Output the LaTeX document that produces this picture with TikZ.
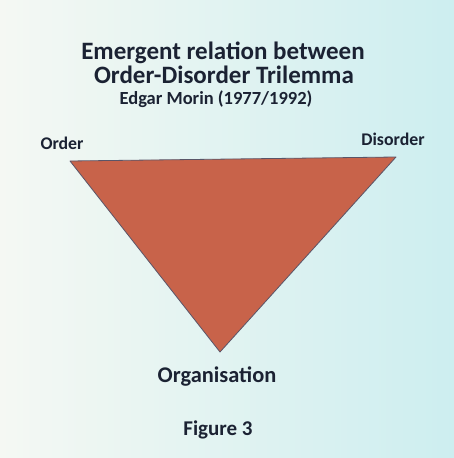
\documentclass[tikz,border=0pt]{standalone}
\usepackage{fontspec}
\setmainfont{Carlito}
\usetikzlibrary{positioning}
\definecolor{inkblue}{HTML}{1B2233}
\definecolor{brick}{HTML}{C8634A}
\definecolor{edgegray}{HTML}{5A5568}
\definecolor{pagewhite}{HTML}{F5F8F3}
\definecolor{pagecyan}{HTML}{CDEEF0}
\tikzset{
  every node/.style={text=inkblue, inner sep=0pt},
  title/.style={font=\fontsize{25}{28}\selectfont\bfseries, anchor=base},
  subtitle/.style={font=\fontsize{18.5}{22}\selectfont\bfseries, anchor=base},
  corner/.style={font=\fontsize{17.8}{20}\selectfont\bfseries, anchor=base},
  caption/.style={font=\fontsize{21}{24}\selectfont\bfseries, anchor=base},
  tri/.style={fill=brick, draw=edgegray, line width=0.8pt, line join=round}
}
\begin{document}
\begin{tikzpicture}[x=1pt, y=1pt]
    % page
    \shade[left color=pagewhite, right color=pagecyan] (0,0) rectangle (454,458);
    \useasboundingbox (0,0) rectangle (454,458);

    % heading
    \node [title] (t1) at (223,398) {Emergent relation between};
    \node [title] (t2) at (224,374) {Order-Disorder Trilemma};
    \node [subtitle] (t3) at (216,353) {Edgar Morin (1977/1992)};

    % triangle
    \coordinate (ord) at (70,297);
    \coordinate (dis) at (396,301);
    \coordinate (org) at (220,106);
    \draw [tri] (ord) -- (dis) -- (org) -- cycle;

    \node [corner] (lord) at (62,308) {Order};
    \node [corner] (ldis) at (393,312) {Disorder};
    \node [corner, font=\fontsize{22.4}{26}\selectfont\bfseries] (lorg) at (217,75) {Organisation};

    \node [caption] (fig) at (218,22) {Figure 3};
  \end{tikzpicture}
\end{document}
